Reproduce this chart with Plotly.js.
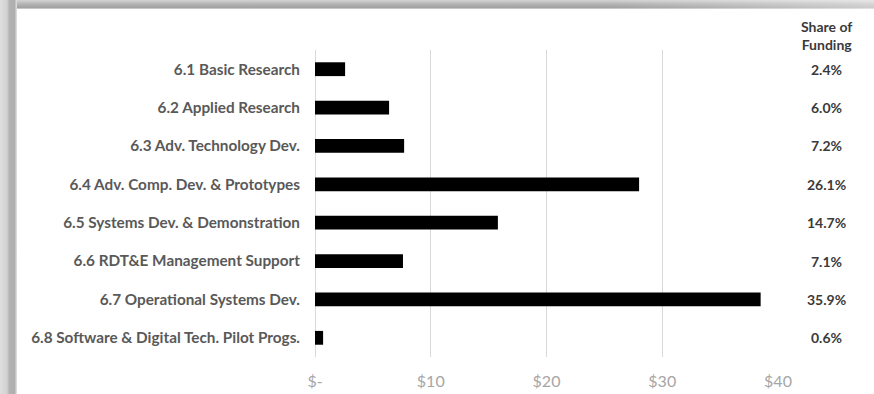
<!DOCTYPE html>
<html>
<head>
<meta charset="utf-8">
<script src="https://cdn.plot.ly/plotly-3.0.1.min.js"></script>
<style>
  html, body { margin: 0; padding: 0; background: #ffffff; }
  #wrap { position: relative; width: 874px; height: 394px; overflow: hidden; }
  #chart { position: absolute; left: 0; top: 0; width: 874px; height: 394px; }
  /* picture-frame edges around the chart */
  .edge-top {
    position: absolute; left: 0; top: 0; width: 874px; height: 9px; pointer-events: none;
    background:
      linear-gradient(to right, rgba(255,255,255,0) 0%, rgba(255,255,255,0) 70%, rgba(255,255,255,0.45) 100%),
      linear-gradient(to bottom, #d4d4d4 0%, #b4b4b4 45%, #a2a2a2 85%, #dcdcdc 100%);
  }
  .edge-left {
    position: absolute; left: 0; top: 0; width: 17px; height: 394px; pointer-events: none;
    background: linear-gradient(to right, #dedede 0%, #d2d2d2 40%, #b2b2b2 55%, #aeaeae 85%, #e4e4e4 100%);
  }
</style>
</head>
<body>
<div id="wrap">
  <div id="chart"></div>
  <div class="edge-top"></div>
  <div class="edge-left"></div>
</div>
<script>
// RDT&E budget activities, funding in $ billions, with share of total
const categories = [
  "6.1 Basic Research",
  "6.2 Applied Research",
  "6.3 Adv. Technology Dev.",
  "6.4 Adv. Comp. Dev. & Prototypes",
  "6.5 Systems Dev. & Demonstration",
  "6.6 RDT&E Management Support",
  "6.7 Operational Systems Dev.",
  "6.8 Software & Digital Tech. Pilot Progs."
];
const funding = [2.6, 6.4, 7.7, 28.0, 15.8, 7.6, 38.5, 0.7];
const shares = ["2.4%", "6.0%", "7.2%", "26.1%", "14.7%", "7.1%", "35.9%", "0.6%"];
const shareHeader = "Share of<br>Funding";
const tickValues = [0, 10, 20, 30, 40];
const tickLabels = ["$-", "$10", "$20", "$30", "$40"];

const labelFont = "Lato, 'Open Sans', sans-serif";

const trace = {
  type: "bar",
  orientation: "h",
  x: funding,
  y: categories,
  width: 0.36,
  marker: { color: "#000000", line: { width: 0 } },
  hoverinfo: "x+y"
};

const annotations = categories.map((c, i) => ({
  xref: "paper", yref: "y",
  x: 1.104, y: c,
  xanchor: "center", yanchor: "middle",
  text: "<b>" + shares[i] + "</b>",
  showarrow: false,
  font: { family: labelFont, size: 14, color: "#3a3a3a" }
}));
annotations.push({
  xref: "paper", yref: "paper",
  x: 1.104, y: 0.983,
  xanchor: "center", yanchor: "bottom",
  text: "<b>" + shareHeader + "</b>",
  showarrow: false,
  font: { family: labelFont, size: 14, color: "#3a3a3a" }
});

const layout = {
  width: 874,
  height: 394,
  margin: { l: 315, r: 96, t: 50, b: 37, pad: 0 },
  paper_bgcolor: "rgba(0,0,0,0)",
  plot_bgcolor: "rgba(0,0,0,0)",
  showlegend: false,
  bargap: 0.64,
  xaxis: {
    range: [0, 40],
    tickvals: tickValues,
    ticktext: tickLabels,
    showgrid: true,
    gridcolor: "#d9d9d9",
    gridwidth: 1,
    zeroline: true,
    zerolinecolor: "#d9d9d9",
    zerolinewidth: 1,
    showline: false,
    ticks: "",
    ticklabelstandoff: 13,
    tickfont: { family: labelFont, size: 16, color: "#a6a6a6" },
    fixedrange: true
  },
  yaxis: {
    autorange: "reversed",
    categoryorder: "array",
    categoryarray: categories,
    showgrid: false,
    zeroline: false,
    showline: false,
    ticks: "",
    ticklabelstandoff: 14,
    tickfont: { family: labelFont, size: 15.3, color: "#595959", weight: "bold" },
    fixedrange: true
  },
  annotations: annotations
};

Plotly.newPlot("chart", [trace], layout, { displayModeBar: false, staticPlot: true });
</script>
</body>
</html>
